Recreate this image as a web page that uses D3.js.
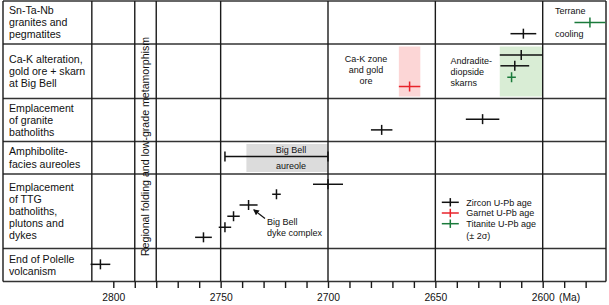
<!DOCTYPE html>
<html>
<head>
<meta charset="utf-8">
<script src="https://cdn.jsdelivr.net/npm/d3@7"></script>
<style>
	body { margin: 0; background: #fff; }
	svg { display: block; font-family: "Liberation Sans", Arial, Helvetica, sans-serif; }
</style>
</head>
<body>
<div id="chart"></div>
<script>
// row labels (top to bottom)
var rowLabels = [
	["Sn-Ta-Nb", "granites and", "pegmatites"],
	["Ca-K alteration,", "gold ore + skarn", "at Big Bell"],
	["Emplacement", "of granite", "batholiths"],
	["Amphibolite-", "facies aureoles"],
	["Emplacement", "of TTG", "batholiths,", "plutons and", "dykes"],
	["End of Polelle", "volcanism"]
];

// U-Pb ages (Ma), 2 sigma errors, method, row and level inside the row
var pointAges   = [2609, 2578, 2610, 2613, 2614.5, 2662, 2675, 2628, 2758, 2748, 2744, 2737, 2724, 2700, 2806];
var pointErrors = [6, 7.2, 10, 6.7, 2, 5, 5, 7.8, 3.9, 2.9, 2.9, 4.2, 2, 7, 4.6];
var pointMethods = ["zircon", "titanite", "zircon", "zircon", "titanite", "garnet", "zircon", "zircon",
	"zircon", "zircon", "zircon", "zircon", "zircon", "zircon", "zircon"];
var pointRows   = [0, 0, 1, 1, 1, 1, 2, 2, 4, 4, 4, 4, 4, 4, 5];
var pointLevels = [0.76, 0.5, 0.2, 0.4, 0.61, 0.78, 0.73, 0.48, 0.85, 0.715, 0.567, 0.416, 0.272, 0.138, 0.48];

// shaded age ranges
var boxRanges = [[2738, 2700], [2667, 2657], [2620, 2600]];
var boxRows   = [3, 1, 1];
var boxKinds  = ["aureole", "garnet", "titanite"];

// Big Bell aureole age span
var aureoleSpan = [2748, 2700];
// regional folding / metamorphism interval
var foldingSpan = [2790, 2780];

var tickValues  = d3.range(2800, 2579, -10);
var labelValues = [2800, 2750, 2700, 2650, 2600];

var legendMethods = ["zircon", "garnet", "titanite"];
var legendLabels  = ["Zircon U-Pb age", "Garnet U-Pb age", "Titanite U-Pb age"];

// layout
var width = 609, height = 305;
var frameLeft = 3, frameRight = 606;
var rowEdges = [1, 44, 98.5, 141.5, 174, 248.5, 281.5];
var colors = { zircon: "#111", garnet: "#e8232b", titanite: "#1a7a3b" };
var fills = { aureole: "#dcdcdc", garnet: "#fcd6d6", titanite: "#d9edd5" };

var x = d3.scaleLinear().domain([2800, 2600]).range([113.3, 542.7]);
var y = d3.scaleLinear().domain(d3.range(rowEdges.length)).range(rowEdges);
var plotLeft = x(2810);
var bottom = rowEdges[rowEdges.length - 1];

var svg = d3.select("#chart").append("svg")
	.attr("width", width)
	.attr("height", height);

// shaded boxes
svg.append("g").selectAll("rect")
	.data(boxRanges)
	.join("rect")
	.attr("x", d => x(d[0]))
	.attr("width", d => x(d[1]) - x(d[0]))
	.attr("y", (d, i) => y(boxRows[i]) + 2.5)
	.attr("height", (d, i) => y(boxRows[i] + 1) - y(boxRows[i]) - 4.5)
	.attr("fill", (d, i) => fills[boxKinds[i]]);

var grid = svg.append("g")
	.attr("stroke", "#1a1a1a")
	.attr("stroke-width", 1.4)
	.attr("fill", "none");

// row separators and frame
grid.selectAll(".row")
	.data(rowEdges)
	.join("line")
	.attr("x1", frameLeft).attr("x2", frameRight)
	.attr("y1", d => d).attr("y2", d => d)
	.attr("stroke", "#333");

grid.append("line")
	.attr("x1", frameLeft).attr("x2", frameLeft)
	.attr("y1", rowEdges[0]).attr("y2", bottom);
grid.append("line")
	.attr("x1", frameRight).attr("x2", frameRight)
	.attr("y1", rowEdges[0]).attr("y2", bottom);
grid.append("line")
	.attr("x1", plotLeft).attr("x2", plotLeft)
	.attr("y1", rowEdges[0]).attr("y2", bottom);

// vertical grid lines
grid.selectAll(".v")
	.data(labelValues.slice(1).concat(foldingSpan))
	.join("line")
	.attr("x1", d => x(d)).attr("x2", d => x(d))
	.attr("y1", rowEdges[0]).attr("y2", bottom);

// axis
var axis = d3.axisBottom(x)
	.tickValues(tickValues)
	.tickSize(6.5)
	.tickFormat(d => labelValues.indexOf(d) >= 0 ? d : "");
var axisG = svg.append("g")
	.attr("transform", "translate(0," + bottom + ")")
	.call(axis);
axisG.select(".domain").remove();
axisG.selectAll("line").attr("stroke", "#1a1a1a").attr("stroke-width", 1.4);
axisG.selectAll("text")
	.attr("font-size", 10.3)
	.attr("font-family", "'Liberation Sans', Arial, sans-serif")
	.attr("fill", "#111")
	.attr("dy", "10px");

svg.append("text")
	.attr("x", x(2600) + 27)
	.attr("y", 301)
	.attr("text-anchor", "middle")
	.attr("font-size", 10.3)
	.attr("fill", "#111")
	.text("(Ma)");

// row labels
rowLabels.forEach(function (lines, i) {
	var cy = (y(i) + y(i + 1)) / 2;
	var lh = 12.2;
	var t = svg.append("text")
		.attr("font-size", 10.6)
		.attr("fill", "#111");
	lines.forEach(function (s, j) {
		t.append("tspan")
			.attr("x", 9)
			.attr("y", cy + (j - (lines.length - 1) / 2) * lh + 3.7)
			.text(s);
	});
});

// regional folding label
svg.append("text")
	.attr("transform", "translate(" + ((x(foldingSpan[0]) + x(foldingSpan[1])) / 2 + 3.8) + ",146.5) rotate(-90)")
	.attr("text-anchor", "middle")
	.attr("font-size", 10.6)
	.attr("fill", "#111")
	.text("Regional folding and low-grade metamorphism");

// aureole span with end caps
var ay = y(3 + 0.46);
var aur = svg.append("g").attr("stroke", "#111").attr("stroke-width", 1.5);
aur.append("line")
	.attr("x1", x(aureoleSpan[0])).attr("x2", x(aureoleSpan[1]))
	.attr("y1", ay).attr("y2", ay);
aur.selectAll(".cap")
	.data(aureoleSpan)
	.join("line")
	.attr("x1", d => x(d)).attr("x2", d => x(d))
	.attr("y1", ay - 5).attr("y2", ay + 5);

// age crosses
var pts = pointAges.map((a, i) => ({
	age: a, err: pointErrors[i], method: pointMethods[i],
	cy: y(pointRows[i] + pointLevels[i])
}));
var cross = svg.append("g").selectAll("g")
	.data(pts)
	.join("g")
	.attr("stroke", d => colors[d.method])
	.attr("stroke-width", 1.5);
cross.append("line")
	.attr("x1", d => x(d.age + d.err)).attr("x2", d => x(d.age - d.err))
	.attr("y1", d => d.cy).attr("y2", d => d.cy);
cross.append("line")
	.attr("x1", d => x(d.age)).attr("x2", d => x(d.age))
	.attr("y1", d => d.cy - 5).attr("y2", d => d.cy + 5);

// annotations
function note(lines, tx, ty, anchor) {
	var t = svg.append("text")
		.attr("font-size", 9)
		.attr("fill", "#111")
		.attr("text-anchor", anchor);
	lines.forEach(function (s, j) {
		t.append("tspan").attr("x", tx).attr("y", ty + j * 11).text(s);
	});
}
note(["Big Bell"], 291, 152.5, "middle");
note(["aureole"], 291, 168.5, "middle");
note(["Big Bell", "dyke complex"], 267, 225, "start");
note(["Ca-K zone", "and gold", "ore"], 366, 62.3, "middle");
note(["Andradite-", "diopside", "skarns"], 450.5, 63.5, "start");
note(["Terrane"], 555, 14.3, "start");
note(["cooling"], 555, 36.5, "start");

// dyke complex arrow
svg.append("defs").append("marker")
	.attr("id", "arr")
	.attr("viewBox", "0 0 10 10")
	.attr("refX", 8).attr("refY", 5)
	.attr("markerWidth", 5).attr("markerHeight", 5)
	.attr("orient", "auto")
	.append("path")
	.attr("d", "M0,0L10,5L0,10z")
	.attr("fill", "#111");
svg.append("line")
	.attr("x1", 265).attr("y1", 218.5)
	.attr("x2", 254).attr("y2", 210)
	.attr("stroke", "#111")
	.attr("stroke-width", 1.2)
	.attr("marker-end", "url(#arr)");

// legend
var lg = svg.append("g").selectAll("g")
	.data(legendMethods)
	.join("g")
	.attr("transform", (d, i) => "translate(450.3," + (202.3 + i * 10.7) + ")");
lg.append("line")
	.attr("x1", -8.5).attr("x2", 8.5)
	.attr("stroke", d => colors[d]).attr("stroke-width", 1.5);
lg.append("line")
	.attr("y1", -4.2).attr("y2", 4.2)
	.attr("stroke", d => colors[d]).attr("stroke-width", 1.5);
lg.append("text")
	.attr("x", 16)
	.attr("y", 3.2)
	.attr("font-size", 9)
	.attr("fill", "#111")
	.text((d, i) => legendLabels[i]);
note(["(\u00b1 2\u03c3)"], 466.3, 238.5, "start");
</script>
</body>
</html>
